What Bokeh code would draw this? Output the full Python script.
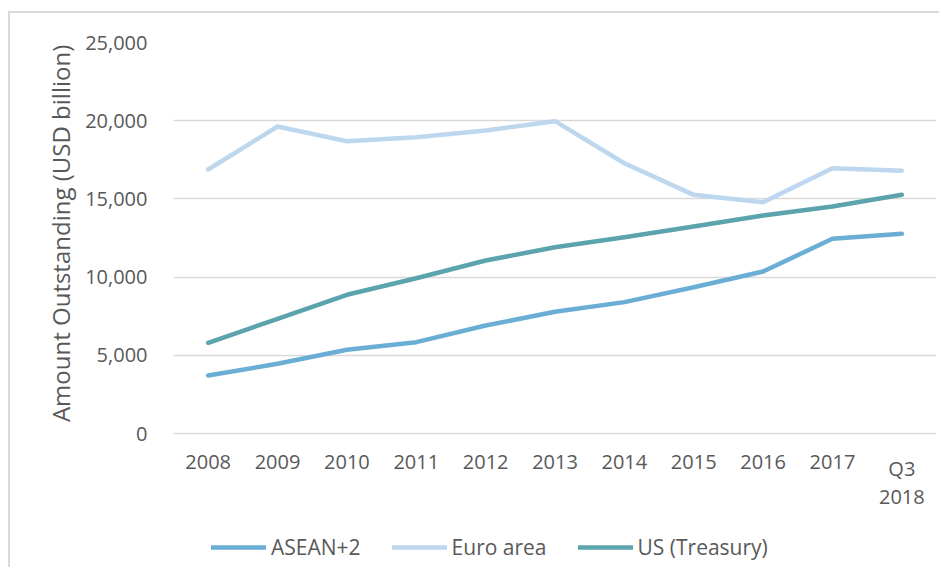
from bokeh.plotting import figure
from bokeh.models import FactorRange, NumeralTickFormatter, Legend, LegendItem, FixedTicker
from bokeh.core.properties import value
from bokeh.embed import file_html
from bokeh.resources import INLINE

categories = ["2008", "2009", "2010", "2011", "2012", "2013", "2014", "2015", "2016", "2017", "Q3\n2018"]
asean = [3710, 4455, 5350, 5840, 6905, 7780, 8400, 9355, 10360, 12450, 12770]
euro = [16880, 19630, 18690, 18945, 19370, 19970, 17280, 15260, 14790, 16960, 16800]
us = [5800, 7330, 8870, 9930, 11060, 11910, 12550, 13235, 13940, 14515, 15260]
y_ticks = [0, 5000, 10000, 15000, 20000, 25000]
y_title = "Amount Outstanding (USD billion)"

FONT = "Open Sans"
TXT = "#595959"

# layout (pixels): frame extends below the zero line to hold the category labels and legend
W, H = 931, 556
TOP, BOTTOM = 29, 8
ZERO_PX = 420            # canvas y of the zero line
y_top = y_ticks[-1]
px_per_unit = (ZERO_PX - TOP) / y_top
y_start = -(H - BOTTOM - ZERO_PX) / px_per_unit

p = figure(
    width=W, height=H,
    x_range=FactorRange(*categories), y_range=(y_start, y_top),
    output_backend="svg", toolbar_location=None,
    min_border_left=163, min_border_right=5, min_border_top=TOP, min_border_bottom=BOTTOM,
    styles={"border-top": "2px solid #d9d9d9", "border-left": "2px solid #d9d9d9",
            "margin-top": "11px", "margin-left": "8px"},
)
p.outline_line_color = None
p.background_fill_color = "white"
p.border_fill_color = "white"

p.xgrid.grid_line_color = None
p.xaxis.visible = False
p.ygrid.grid_line_color = "#d9d9d9"
p.ygrid.grid_line_width = 1.5
p.ygrid.ticker = FixedTicker(ticks=y_ticks)
p.yaxis.ticker = FixedTicker(ticks=y_ticks)
p.yaxis.formatter = NumeralTickFormatter(format="0,0")

ax = p.yaxis[0]
ax.axis_line_color = None
ax.major_tick_line_color = None
ax.minor_tick_line_color = None
ax.major_label_text_font = FONT
ax.major_label_text_font_size = "20px"
ax.major_label_text_color = TXT
ax.major_label_standoff = 20
# leading no-break spaces lift the title so it is centred on the 0-25,000 band
ax.axis_label = "\u00a0" * 22 + y_title
ax.axis_label_text_font = FONT
ax.axis_label_text_font_size = "24px"
ax.axis_label_text_font_style = "normal"
ax.axis_label_text_color = TXT
ax.axis_label_standoff = 5

# category labels under the zero line
p.text(x=categories, y=[0] * len(categories), text=categories,
       text_font=value(FONT), text_font_size="20px", text_color=TXT,
       text_align="center", text_baseline="top", y_offset=21, text_line_height=1.05)

r1 = p.line(categories, asean, line_color="#6aaed6", line_width=4.5, line_cap="round", line_join="round")
r2 = p.line(categories, euro, line_color="#bdd7ee", line_width=4.5, line_cap="round", line_join="round")
r3 = p.line(categories, us, line_color="#5ba3ad", line_width=4.5, line_cap="round", line_join="round")

legend = Legend(
    items=[LegendItem(label="ASEAN+2", renderers=[r1]),
           LegendItem(label="Euro area", renderers=[r2]),
           LegendItem(label="US (Treasury)", renderers=[r3])],
    orientation="horizontal", location=(38, 0),
    glyph_width=55, glyph_height=20, label_standoff=5, spacing=31,
    label_text_font=FONT, label_text_font_size="21px", label_text_color=TXT,
    border_line_color=None, background_fill_alpha=0,
    margin=0, padding=4,
)
p.add_layout(legend, "center")

open("out.html", "w").write(file_html(p, INLINE))
